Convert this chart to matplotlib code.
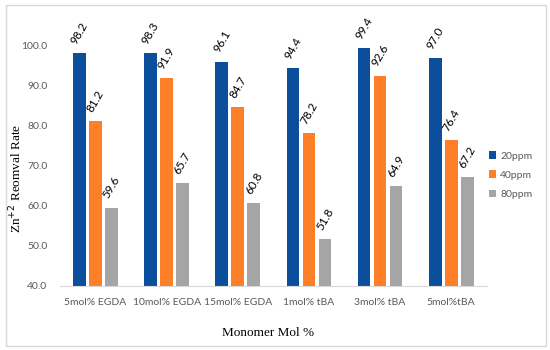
import numpy as np
import matplotlib.pyplot as plt
from matplotlib.patches import Rectangle

categories = ["5mol% EGDA", "10mol% EGDA", "15mol% EGDA", "1mol% tBA", "3mol% tBA", "5mol%tBA"]
series_names = ["20ppm", "40ppm", "80ppm"]
v20 = [98.2, 98.3, 96.1, 94.4, 99.4, 97.0]
v40 = [81.2, 91.9, 84.7, 78.2, 92.6, 76.4]
v80 = [59.6, 65.7, 60.8, 51.8, 64.9, 67.2]
colors = ["#0b4f9c", "#fd7f27", "#a5a5a5"]

fig = plt.figure(figsize=(5.5, 3.5), dpi=100)
fig.patches.append(Rectangle((0.01, 0.012), 0.983, 0.975, transform=fig.transFigure,
                             fill=False, edgecolor="#d9d9d9", linewidth=1.0))
ax = fig.add_axes([0.109, 0.183, 0.776, 0.80])

x = np.arange(len(categories))
w = 0.18
step = 0.225
for i, (vals, name, c) in enumerate(zip([v20, v40, v80], series_names, colors)):
    pos = x + (i - 1) * step
    ax.bar(pos, np.array(vals) - 40, width=w, bottom=40, color=c, label=name)
    for px, v in zip(pos, vals):
        ax.text(px, v + 1.8, f"{v:.1f}", rotation=60, ha="center", va="bottom",
                fontsize=8.5, fontfamily="Lato", color="black")

ax.set_xlim(-0.5, len(categories) - 0.5)
ax.set_ylim(40, 110)
ax.set_yticks(np.arange(40, 101, 10))
ax.set_yticklabels([f"{t:.1f}" for t in np.arange(40, 101, 10)])
ax.set_xticks(x)
ax.set_xticklabels(categories)
for lab in ax.get_xticklabels() + ax.get_yticklabels():
    lab.set_fontfamily("Lato")
    lab.set_fontsize(7.5)
    lab.set_color("#595959")
ax.tick_params(axis="x", length=0, pad=9)
ax.tick_params(axis="y", length=0, pad=9)
for s in ["top", "right", "left"]:
    ax.spines[s].set_visible(False)
ax.spines["bottom"].set_color("#d9d9d9")

fig.text(0.03, 0.49, "Zn$^{+2}$ Reomval Rate", rotation=90, ha="center", va="center",
         fontsize=9.5, fontfamily="Liberation Serif")
fig.text(0.487, 0.048, "Monomer Mol %", ha="center", va="center",
         fontsize=9.5, fontfamily="Liberation Serif")

leg = ax.legend(loc="center left", bbox_to_anchor=(1.0, 0.396), frameon=False,
                borderaxespad=0.0, borderpad=0.2,
                handlelength=0.7, handleheight=0.7, handletextpad=0.4, labelspacing=0.95,
                prop={"family": "Lato", "size": 7.5})
for t in leg.get_texts():
    t.set_color("#595959")

fig.savefig("out.png", dpi=100)
